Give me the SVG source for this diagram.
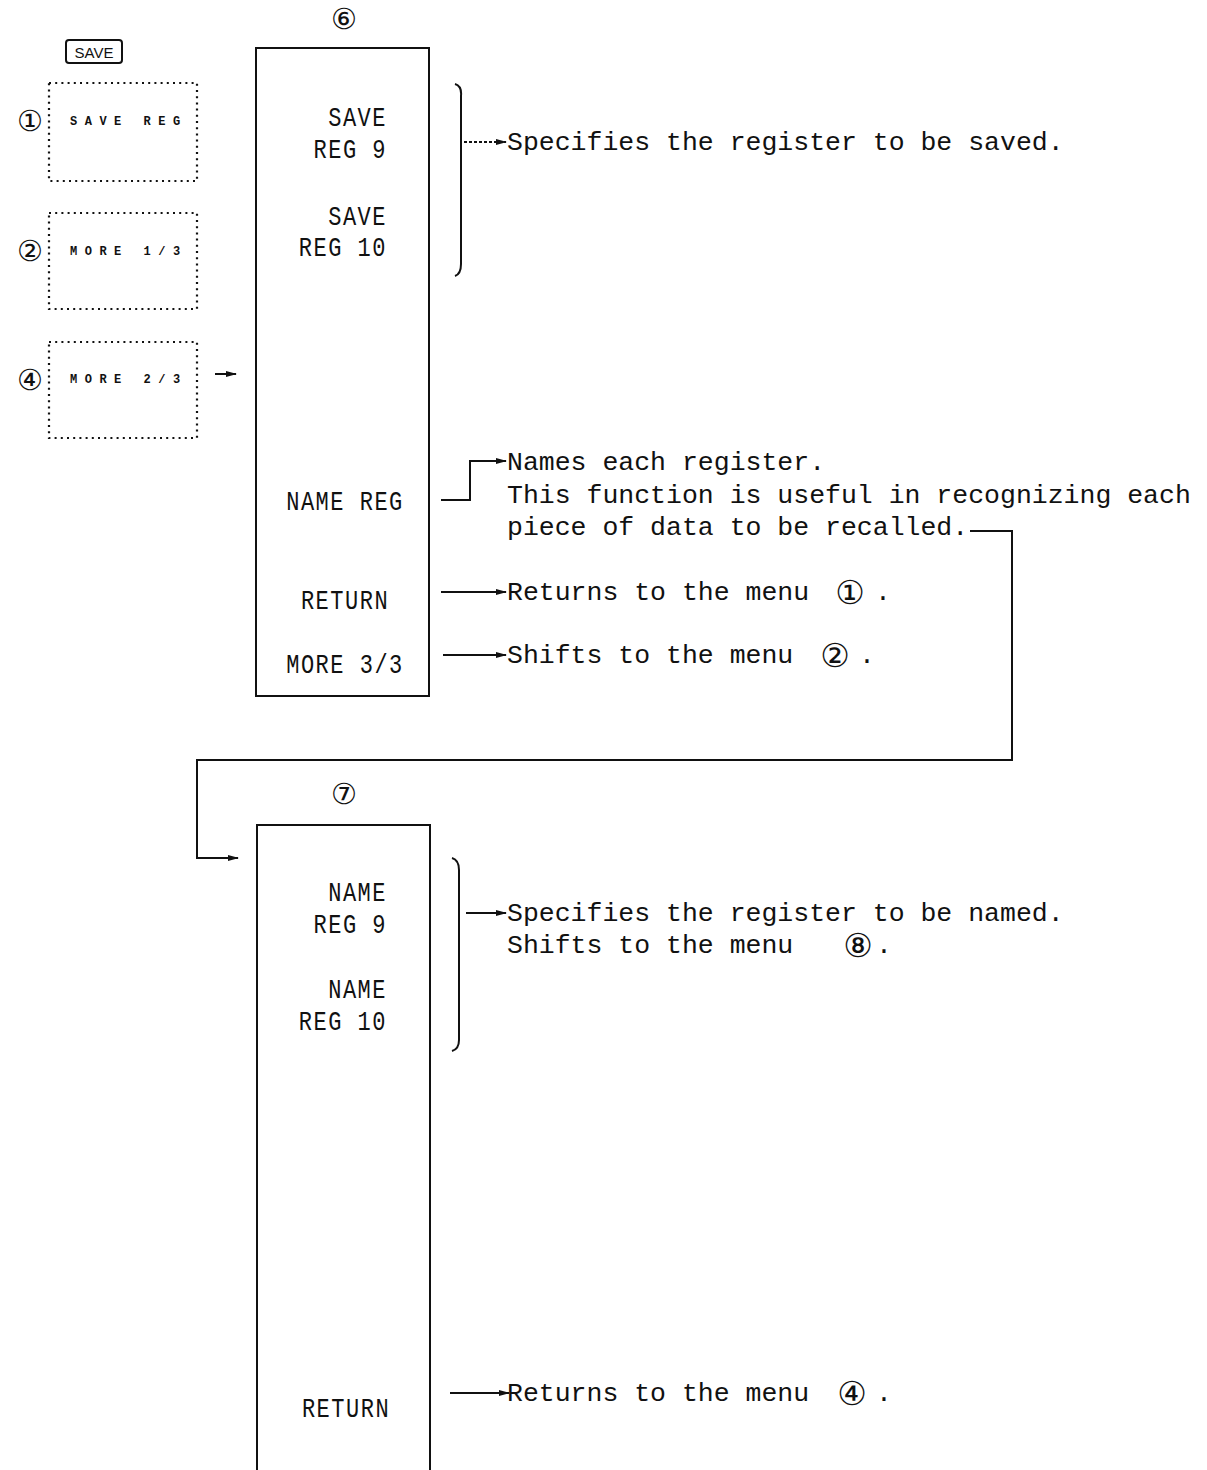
<svg xmlns="http://www.w3.org/2000/svg" width="1207" height="1470" viewBox="0 0 1207 1470">
<style>
.bg{fill:#fff}
.box{fill:none;stroke:#111;stroke-width:2}
.dot{fill:none;stroke:#111;stroke-width:2.2;stroke-dasharray:2 4.2}
.ln{fill:none;stroke:#111;stroke-width:2}
.desc{font-family:"Liberation Mono","Courier New",monospace;font-size:26.5px;fill:#111}
.menu{font-family:"Liberation Mono","DejaVu Sans Mono",monospace;font-size:22px;letter-spacing:1.5px;fill:#111}
.soft{font-family:"Liberation Mono",monospace;font-size:12px;font-weight:bold;letter-spacing:7.5px;fill:#111}
.circ{font-family:"DejaVu Sans","Noto Sans CJK JP",sans-serif;font-size:33px;fill:#111}
.circs{font-family:"DejaVu Sans","Noto Sans CJK JP",sans-serif;font-size:29px;fill:#111}
.key{font-family:"Liberation Sans",Arial,sans-serif;font-size:15px;fill:#111}
</style>
<defs>
<marker id="ah" markerUnits="userSpaceOnUse" markerWidth="12" markerHeight="8" refX="10" refY="4" orient="auto">
<path d="M0,1 L11,4 L0,7 z" fill="#111"/>
</marker>
</defs>
<rect class="bg" x="0" y="0" width="1207" height="1470"/>

<g id="save-key">
<rect class="box" x="66" y="40" width="56" height="23" rx="3" stroke-width="1.8"/>
<text class="key" x="94" y="57.5" text-anchor="middle">SAVE</text>
</g>

<g id="menu1">
<text class="circs" x="30" y="131" text-anchor="middle">①</text>
<rect class="dot" x="49" y="83" width="148" height="98"/>
<text class="soft" x="70" y="125">SAVE REG</text>
</g>
<g id="menu2">
<text class="circs" x="30" y="261" text-anchor="middle">②</text>
<rect class="dot" x="49" y="213" width="148" height="96"/>
<text class="soft" x="70" y="255">MORE 1/3</text>
</g>
<g id="menu4">
<text class="circs" x="30" y="390" text-anchor="middle">④</text>
<rect class="dot" x="49" y="342" width="148" height="96"/>
<text class="soft" x="70" y="383">MORE 2/3</text>
</g>

<g id="menu6">
<text class="circs" x="344" y="29" text-anchor="middle">⑥</text>
<rect class="box" x="256" y="48" width="173" height="648"/>
<text class="menu" text-anchor="end" transform="translate(387,126) scale(1,1.28)">SAVE</text>
<text class="menu" text-anchor="end" transform="translate(387,158) scale(1,1.28)">REG 9</text>
<text class="menu" text-anchor="end" transform="translate(387,225) scale(1,1.28)">SAVE</text>
<text class="menu" text-anchor="end" transform="translate(387,256) scale(1,1.28)">REG 10</text>
<text class="menu" text-anchor="middle" transform="translate(345,510) scale(1,1.28)">NAME REG</text>
<text class="menu" text-anchor="middle" transform="translate(345,609) scale(1,1.28)">RETURN</text>
<text class="menu" text-anchor="middle" transform="translate(345,673) scale(1,1.28)">MORE 3/3</text>
</g>

<g id="menu7">
<text class="circs" x="344" y="804" text-anchor="middle">⑦</text>
<path class="box" d="M257,1472 L257,825 L430,825 L430,1472"/>
<text class="menu" text-anchor="end" transform="translate(387,901) scale(1,1.28)">NAME</text>
<text class="menu" text-anchor="end" transform="translate(387,933) scale(1,1.28)">REG 9</text>
<text class="menu" text-anchor="end" transform="translate(387,998) scale(1,1.28)">NAME</text>
<text class="menu" text-anchor="end" transform="translate(387,1030) scale(1,1.28)">REG 10</text>
<text class="menu" text-anchor="middle" transform="translate(346,1417) scale(1,1.28)">RETURN</text>
</g>

<g id="notes">
<text class="desc" x="507" y="150">Specifies the register to be saved.</text>
<text class="desc" x="507" y="470">Names each register.</text>
<text class="desc" x="507" y="503">This function is useful in recognizing each</text>
<text class="desc" x="507" y="535">piece of data to be recalled.</text>
<text class="desc" x="507" y="600">Returns to the menu</text>
<text class="circ" x="850" y="604" text-anchor="middle">①</text>
<text class="desc" x="875" y="600">.</text>
<text class="desc" x="507" y="663">Shifts to the menu</text>
<text class="circ" x="835" y="667" text-anchor="middle">②</text>
<text class="desc" x="859" y="663">.</text>
<text class="desc" x="507" y="921">Specifies the register to be named.</text>
<text class="desc" x="507" y="953">Shifts to the menu</text>
<text class="circ" x="858" y="957" text-anchor="middle">⑧</text>
<text class="desc" x="876" y="953">.</text>
<text class="desc" x="507" y="1401">Returns to the menu</text>
<text class="circ" x="852" y="1405" text-anchor="middle">④</text>
<text class="desc" x="876" y="1401">.</text>
</g>

<g id="connectors">
<path class="ln" d="M215,374 L236,374" marker-end="url(#ah)"/>
<path class="ln" d="M455,84 Q462,86 461,96 L461,264 Q461,274 455,276"/>
<path class="ln" d="M464,142 L506,142" stroke-dasharray="3 2" stroke-width="1.6" marker-end="url(#ah)"/>
<path class="ln" d="M441,500 L470,500 L470,461 L506,461" marker-end="url(#ah)"/>
<path class="ln" d="M441,592 L506,592" marker-end="url(#ah)"/>
<path class="ln" d="M443,655 L506,655" marker-end="url(#ah)"/>
<path class="ln" d="M970,531 L1012,531 L1012,760 L197,760 L197,858 L238,858" marker-end="url(#ah)"/>
<path class="ln" d="M452,858 Q459,860 459,870 L459,1040 Q459,1049 452,1051"/>
<path class="ln" d="M466,913 L506,913" marker-end="url(#ah)"/>
<path class="ln" d="M450,1393 L509,1393" marker-end="url(#ah)"/>
</g>
</svg>
